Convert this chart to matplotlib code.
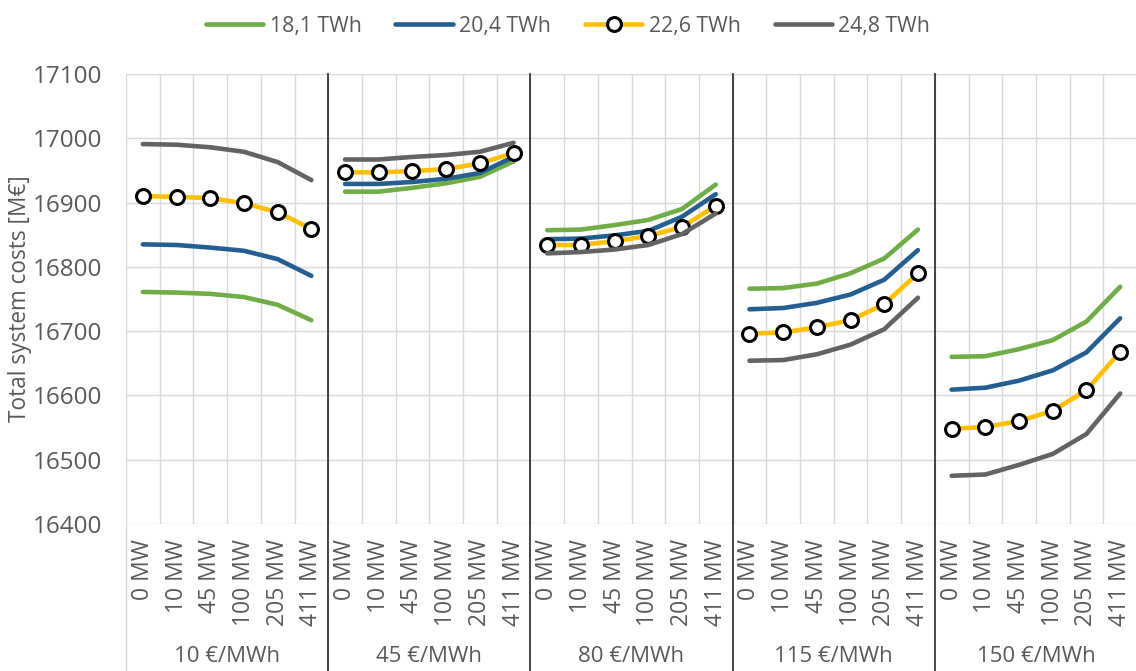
import numpy as np
import matplotlib
matplotlib.use("Agg")
import matplotlib.pyplot as plt

plt.rcParams['font.family'] = ['Open Sans', 'DejaVu Sans']

# categories
capacities = ["0 MW", "10 MW", "45 MW", "100 MW", "205 MW", "411 MW"]
prices = ["10 €/MWh", "45 €/MWh", "80 €/MWh", "115 €/MWh", "150 €/MWh"]

# values, 6 capacities per price group
s_181 = [16761, 16760, 16758, 16753, 16741, 16717,
         16917, 16917, 16923, 16930, 16940, 16964,
         16857, 16858, 16865, 16873, 16890, 16928,
         16766, 16767, 16774, 16790, 16813, 16858,
         16660, 16661, 16672, 16686, 16715, 16769]
s_204 = [16835, 16834, 16830, 16825, 16812, 16786,
         16929, 16929, 16932, 16937, 16946, 16971,
         16843, 16844, 16849, 16856, 16878, 16913,
         16734, 16736, 16744, 16757, 16780, 16826,
         16609, 16612, 16623, 16639, 16667, 16720]
s_226 = [16910, 16909, 16907, 16899, 16885, 16859,
         16947, 16947, 16949, 16952, 16961, 16977,
         16834, 16834, 16840, 16848, 16862, 16895,
         16696, 16698, 16706, 16717, 16742, 16790,
         16548, 16551, 16560, 16576, 16608, 16668]
s_248 = [16991, 16990, 16986, 16979, 16963, 16935,
         16967, 16967, 16971, 16974, 16979, 16993,
         16821, 16823, 16827, 16834, 16851, 16883,
         16654, 16655, 16664, 16679, 16703, 16752,
         16475, 16477, 16492, 16509, 16540, 16603]

series = [
    ("18,1 TWh", s_181, "#70AD47", False),
    ("20,4 TWh", s_204, "#255E91", False),
    ("22,6 TWh", s_226, "#FFC000", True),
    ("24,8 TWh", s_248, "#636363", False),
]

text_col = "#595959"
grid_col = "#D9D9D9"

fig = plt.figure(figsize=(11.36, 6.71), dpi=100)
ax = fig.add_axes([126 / 1136, 1 - 524 / 671, 1011 / 1136, 450 / 671])

n = len(capacities)
ng = len(prices)
for label, vals, col, marker in series:
    vals = np.array(vals)
    for g in range(ng):
        x = np.arange(g * n, (g + 1) * n)
        kw = dict(color=col, lw=3.3, solid_capstyle='round', zorder=3)
        if marker:
            kw.update(marker='o', ms=10, mfc='white', mec='black', mew=2.2)
        ax.plot(x, vals[g * n:(g + 1) * n], label=label if g == 0 else None, **kw)

ax.set_xlim(-0.5, n * ng - 0.5)
ax.set_ylim(16400, 17100)
ax.set_yticks(np.arange(16400, 17101, 100))

ax.set_xticks(np.arange(n * ng))
ax.set_xticklabels(capacities * ng, rotation=90)
ax.set_xticks(np.arange(n * ng + 1) - 0.5, minor=True)
ax.grid(True, which='minor', axis='x', color=grid_col, lw=1)
ax.grid(True, which='major', axis='y', color=grid_col, lw=1)
ax.set_axisbelow(True)
for sp in ax.spines.values():
    sp.set_visible(False)
ax.tick_params(axis='both', which='both', length=0, colors=text_col)
ax.tick_params(axis='y', pad=17, labelsize=17.5)
ax.tick_params(axis='x', pad=11, labelsize=16.5)

ax.set_ylabel("Total system costs [M€]", color=text_col, fontsize=16.3)
ax.yaxis.set_label_coords(-0.093, 0.5)

# group separators and labels
trans = ax.get_xaxis_transform()
ybot = -147 / 450
ax.plot([-0.5, -0.5], [0, ybot], transform=trans, color=grid_col, lw=1, clip_on=False)
for g in range(1, ng):
    ax.plot([g * n - 0.5] * 2, [1, ybot], transform=trans, color="#262626",
            lw=1.2, clip_on=False, zorder=4)
for g, p in enumerate(prices):
    ax.text(g * n + (n - 1) / 2, -133 / 450, p, transform=trans, ha='center',
            va='center', color=text_col, fontsize=16)

fig.legend(loc='upper center', bbox_to_anchor=(0.5, 1.005), ncol=4, frameon=False,
           fontsize=15.3, labelcolor=text_col, handlelength=2.7, handletextpad=0.3,
           columnspacing=1.6)

fig.savefig("out.png", dpi=100)
